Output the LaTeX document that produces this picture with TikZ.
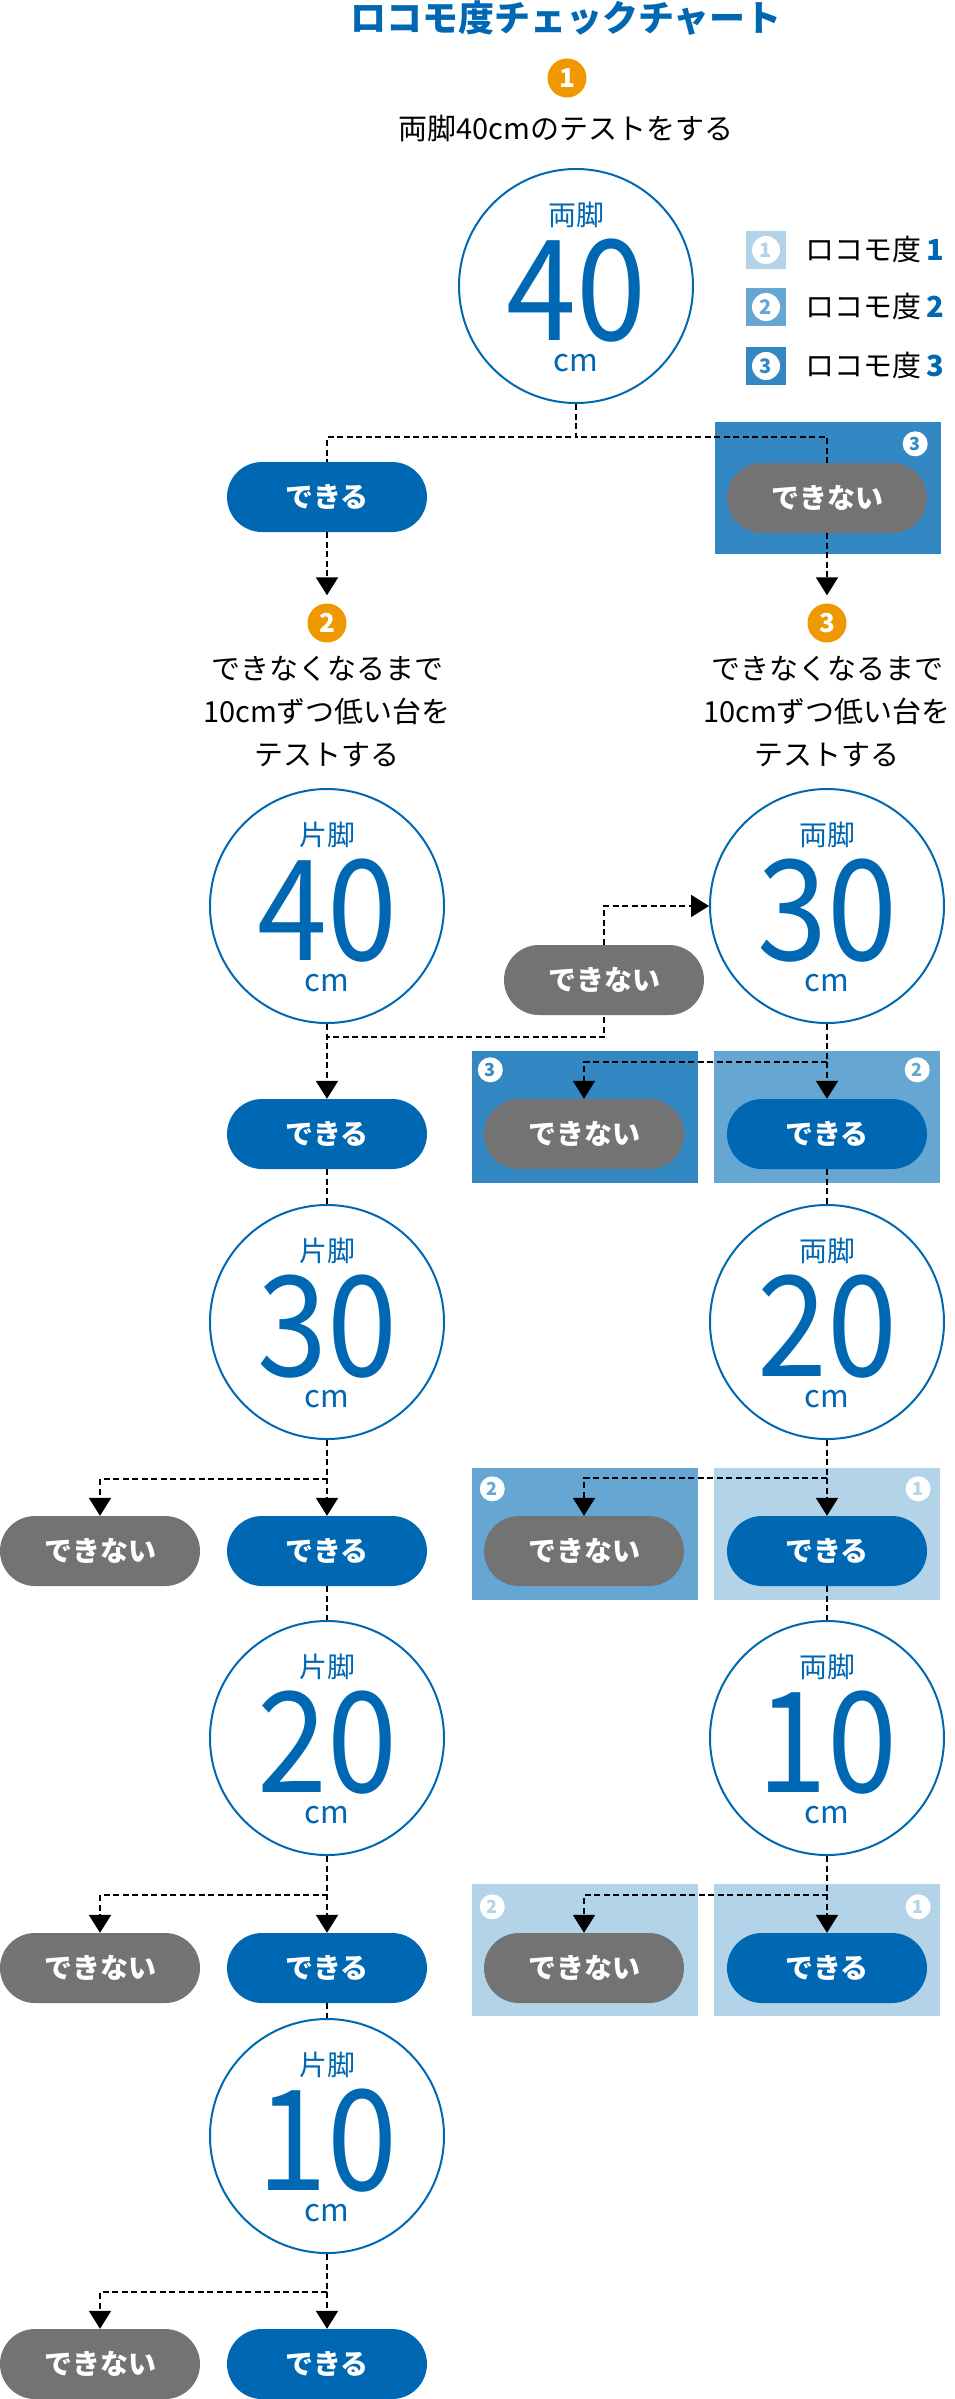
\documentclass[tikz,border=0pt]{standalone}
\usepackage{fontspec}
\setmainfont{Noto Sans CJK JP}
\newfontfamily\numfont{Noto Sans CJK JP}[FakeStretch=0.9]
\usepackage{xcolor}
\usepackage{tikz}
\usetikzlibrary{arrows.meta,positioning,calc}
\definecolor{lcblue}{RGB}{0,104,179}
\definecolor{lcgray}{RGB}{115,115,115}
\definecolor{lcorange}{RGB}{239,152,0}
\definecolor{lclv1}{RGB}{179,211,232}
\definecolor{lclv2}{RGB}{102,166,210}
\definecolor{lclv3}{RGB}{51,136,196}
\tikzset{
  title/.style={text=lcblue, font=\fontsize{36}{40}\selectfont\bfseries, inner sep=0pt},
  note/.style={align=center, inner sep=0pt, font=\fontsize{29}{43}\selectfont},
  badge/.style={circle, fill=lcorange, text=white, minimum size=39pt, inner sep=0pt,
    font=\fontsize{26}{26}\selectfont\bfseries},
  testc/.style={circle, draw=lcblue, line width=2pt, minimum size=234pt, inner sep=0pt},
  ttop/.style={text=lcblue, inner sep=0pt, font=\fontsize{28}{28}\selectfont},
  tnum/.style={text=lcblue, inner sep=0pt, font=\numfont\fontsize{140}{140}\selectfont},
  tunit/.style={text=lcblue, inner sep=0pt, font=\fontsize{31}{31}\selectfont},
  pill/.style={rectangle, rounded corners=35pt, text=white, minimum width=200pt,
    minimum height=70pt, inner sep=0pt, font=\fontsize{28}{28}\selectfont\bfseries},
  okpill/.style={pill, fill=lcblue},
  ngpill/.style={pill, fill=lcgray},
  lvbox/.style={rectangle, minimum width=226pt, minimum height=132pt, inner sep=0pt},
  lv1/.style={lvbox, fill=lclv1},
  lv2/.style={lvbox, fill=lclv2},
  lv3/.style={lvbox, fill=lclv3},
  tag/.style={circle, fill=white, text=#1, minimum size=25pt, inner sep=0pt,
    font=\fontsize{18}{18}\selectfont\bfseries},
  lvsq/.style={rectangle, minimum width=40pt, minimum height=38pt, inner sep=0pt},
  legtxt/.style={anchor=west, inner sep=0pt, font=\fontsize{29}{29}\selectfont},
  link/.style={draw=black, line width=2pt, dash pattern=on 6pt off 3.5pt},
  arr/.style={link, -{Triangle[length=18pt,width=22pt]}}
}
\begin{document}
\begin{tikzpicture}[x=1pt,y=1pt]
  \useasboundingbox (0,0) rectangle (954,-2399);

  % heading and step 1
  \node[title] (head) at (566,-18) {ロコモ度チェックチャート};
  \node[badge] (o1) at (567,-78) {1};
  \node[note] (n1) at (566,-129) {両脚40cmのテストをする};

  \node[testc] (c40) at (576,-286) {};
  \node[ttop] (c40-l) at ([yshift=71pt]c40.center) {両脚};
  \node[tnum] (c40-n) at ([yshift=-5pt]c40.center) {40};
  \node[tunit] (c40-u) at ([yshift=-77pt]c40.center) {cm};

  % legend
  \node[lvsq, fill=lclv1] (lg1) at (766,-250) {};
  \node[tag=lclv1, minimum size=28pt, font=\fontsize{20}{20}\selectfont\bfseries] (lg1n) at (lg1) {1};
  \node[legtxt] (lg1t) at (805,-250) {ロコモ度\kern5pt\textcolor{lcblue}{\bfseries 1}};
  \node[lvsq, fill=lclv2] (lg2) at (766,-307) {};
  \node[tag=lclv2, minimum size=28pt, font=\fontsize{20}{20}\selectfont\bfseries] (lg2n) at (lg2) {2};
  \node[legtxt] (lg2t) at (805,-307) {ロコモ度\kern5pt\textcolor{lcblue}{\bfseries 2}};
  \node[lvsq, fill=lclv3] (lg3) at (766,-366) {};
  \node[tag=lclv3, minimum size=28pt, font=\fontsize{20}{20}\selectfont\bfseries] (lg3n) at (lg3) {3};
  \node[legtxt] (lg3t) at (805,-366) {ロコモ度\kern5pt\textcolor{lcblue}{\bfseries 3}};

  % first answer
  \node[okpill] (p1ok) at (327,-497) {できる};
  \node[lv3] (b1) at (828,-488) {};
  \node[tag=lclv3] (b1n) at ([xshift=-26pt,yshift=-22pt]b1.north east) {3};
  \node[ngpill] (p1ng) at (827,-498) {できない};

  \node[badge] (o2) at (327,-623) {2};
  \node[note] (n2) at (327,-712) {できなくなるまで\\10cmずつ低い台を\\テストする};
  \node[badge] (o3) at (827,-623) {3};
  \node[note] (n3) at (827,-712) {できなくなるまで\\10cmずつ低い台を\\テストする};

  % second tests
  \node[testc] (c40L) at (327,-906) {};
  \node[ttop] (c40L-l) at ([yshift=71pt]c40L.center) {片脚};
  \node[tnum] (c40L-n) at ([yshift=-5pt]c40L.center) {40};
  \node[tunit] (c40L-u) at ([yshift=-77pt]c40L.center) {cm};
  \node[testc] (c30R) at (827,-906) {};
  \node[ttop] (c30R-l) at ([yshift=71pt]c30R.center) {両脚};
  \node[tnum] (c30R-n) at ([yshift=-5pt]c30R.center) {30};
  \node[tunit] (c30R-u) at ([yshift=-77pt]c30R.center) {cm};
  \node[ngpill] (pmid) at (604,-980) {できない};

  \node[okpill] (p3ok) at (327,-1134) {できる};
  \node[lv3] (b3a) at (584.5,-1117) {};
  \node[tag=lclv3] (b3an) at ([xshift=19pt,yshift=-19pt]b3a.north west) {3};
  \node[ngpill] (p3ng) at (584,-1134) {できない};
  \node[lv2] (b3b) at (827,-1117) {};
  \node[tag=lclv2] (b3bn) at ([xshift=-23pt,yshift=-19pt]b3b.north east) {2};
  \node[okpill] (p3rok) at (827,-1134) {できる};

  % third tests
  \node[testc] (c30L) at (327,-1322) {};
  \node[ttop] (c30L-l) at ([yshift=71pt]c30L.center) {片脚};
  \node[tnum] (c30L-n) at ([yshift=-5pt]c30L.center) {30};
  \node[tunit] (c30L-u) at ([yshift=-77pt]c30L.center) {cm};
  \node[testc] (c20R) at (827,-1322) {};
  \node[ttop] (c20R-l) at ([yshift=71pt]c20R.center) {両脚};
  \node[tnum] (c20R-n) at ([yshift=-5pt]c20R.center) {20};
  \node[tunit] (c20R-u) at ([yshift=-77pt]c20R.center) {cm};

  \node[ngpill] (p5ng) at (100,-1551) {できない};
  \node[okpill] (p5ok) at (327,-1551) {できる};
  \node[lv2] (b5a) at (584.5,-1534) {};
  \node[tag=lclv2] (b5an) at ([xshift=21pt,yshift=-21pt]b5a.north west) {2};
  \node[ngpill] (p5rng) at (584,-1551) {できない};
  \node[lv1] (b5b) at (827,-1534) {};
  \node[tag=lclv1] (b5bn) at ([xshift=-22pt,yshift=-21pt]b5b.north east) {1};
  \node[okpill] (p5rok) at (827,-1551) {できる};

  % fourth tests
  \node[testc] (c20L) at (327,-1738) {};
  \node[ttop] (c20L-l) at ([yshift=71pt]c20L.center) {片脚};
  \node[tnum] (c20L-n) at ([yshift=-5pt]c20L.center) {20};
  \node[tunit] (c20L-u) at ([yshift=-77pt]c20L.center) {cm};
  \node[testc] (c10R) at (827,-1738) {};
  \node[ttop] (c10R-l) at ([yshift=71pt]c10R.center) {両脚};
  \node[tnum] (c10R-n) at ([yshift=-5pt]c10R.center) {10};
  \node[tunit] (c10R-u) at ([yshift=-77pt]c10R.center) {cm};

  \node[ngpill] (p7ng) at (100,-1968) {できない};
  \node[okpill] (p7ok) at (327,-1968) {できる};
  \node[lv1] (b7a) at (584.5,-1950) {};
  \node[tag=lclv1] (b7an) at ([xshift=21pt,yshift=-23pt]b7a.north west) {2};
  \node[ngpill] (p7rng) at (584,-1968) {できない};
  \node[lv1] (b7b) at (827,-1950) {};
  \node[tag=lclv1] (b7bn) at ([xshift=-22pt,yshift=-23pt]b7b.north east) {1};
  \node[okpill] (p7rok) at (827,-1968) {できる};

  % last test
  \node[testc] (c10L) at (327,-2136) {};
  \node[ttop] (c10L-l) at ([yshift=71pt]c10L.center) {片脚};
  \node[tnum] (c10L-n) at ([yshift=-5pt]c10L.center) {10};
  \node[tunit] (c10L-u) at ([yshift=-77pt]c10L.center) {cm};

  \node[ngpill] (p9ng) at (100,-2364) {できない};
  \node[okpill] (p9ok) at (327,-2364) {できる};

  % connectors
  \draw[link] (c40.south) -- ++(0,-33) -| (p1ok.north);
  \draw[link] (c40.south) -- ++(0,-33) -| (p1ng.north);
  \draw[arr, shorten >=8pt] (p1ok) -- (o2);
  \draw[arr, shorten >=8pt] (p1ng) -- (o3);

  \draw[arr] (c40L.south) -- (p3ok.north);
  \draw[link] (c40L.south) -- ++(0,-13) -| (pmid.south);
  \draw[arr] (pmid.north) |- (c30R.west);
  \draw[arr] (c30R.south) -- (p3rok.north);
  \draw[arr] (c30R.south) -- ++(0,-38) -| (p3ng.north);
  \draw[link] (p3ok) -- (c30L);
  \draw[link] (p3rok) -- (c20R);

  \draw[arr] (c30L.south) -- (p5ok.north);
  \draw[arr] (c30L.south) -- ++(0,-39) -| (p5ng.north);
  \draw[arr] (c20R.south) -- (p5rok.north);
  \draw[arr] (c20R.south) -- ++(0,-38) -| (p5rng.north);
  \draw[link] (p5ok) -- (c20L);
  \draw[link] (p5rok) -- (c10R);

  \draw[arr] (c20L.south) -- (p7ok.north);
  \draw[arr] (c20L.south) -- ++(0,-39) -| (p7ng.north);
  \draw[arr] (c10R.south) -- (p7rok.north);
  \draw[arr] (c10R.south) -- ++(0,-39) -| (p7rng.north);
  \draw[link] (p7ok) -- (c10L);

  \draw[arr] (c10L.south) -- (p9ok.north);
  \draw[arr] (c10L.south) -- ++(0,-38) -| (p9ng.north);
\end{tikzpicture}
\end{document}
